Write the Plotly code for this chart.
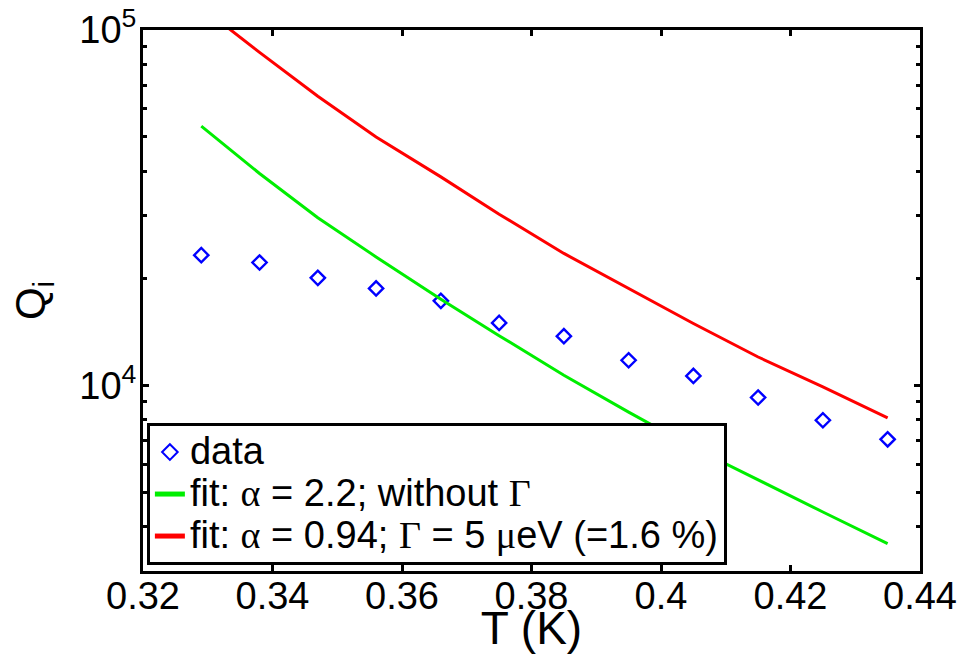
import plotly.graph_objects as go

# Temperature values (K) of the measured points (also the fit evaluation points)
T = [0.329, 0.338, 0.347, 0.356, 0.366, 0.375, 0.385, 0.395, 0.405, 0.415, 0.425, 0.435]

# Measured internal quality factor
Qi_data = [23240, 22160, 20060, 18730, 17280, 14980, 13740, 11760, 10620, 9235, 7970, 7045]

# Fit without Gamma (alpha = 2.2)
Qi_fit_green = [53650, 39450, 29610, 22980, 17470, 13790, 10670, 8400, 6670, 5404, 4397, 3581]

# Fit with Gamma (alpha = 0.94, Gamma = 5 ueV)
Qi_fit_red = [116000, 86500, 65100, 50000, 38600, 30300, 23500, 18730, 14920, 12010, 9890, 8090]

x_ticks = [0.32, 0.34, 0.36, 0.38, 0.40, 0.42, 0.44]
x_ticklabels = ["0.32", "0.34", "0.36", "0.38", "0.4", "0.42", "0.44"]
y_ticks = [1e4, 1e5]
y_ticklabels = ["10<sup>4</sup>", "10<sup>5</sup>"]
y_minor = [3000, 4000, 5000, 6000, 7000, 8000, 9000,
           20000, 30000, 40000, 50000, 60000, 70000, 80000, 90000]

SERIF = "font-family:Liberation Serif, Times New Roman, serif"
BIG = "font-size:38px"


def legend_label(parts):
    out = ""
    for txt, serif in parts:
        style = BIG + (";" + SERIF if serif else "")
        out += f"<span style='{style}'>{txt}</span>"
    return out


name_data = legend_label([("data", False)])
name_green = legend_label([("fit: ", False), ("α", True), (" = 2.2; without ", False), ("Γ", True)])
name_red = legend_label([("fit: ", False), ("α", True), (" = 0.94; ", False), ("Γ", True),
                         (" = 5 ", False), ("μ", True), ("eV (=1.6 %)", False)])

fig = go.Figure()
fig.add_trace(go.Scatter(
    x=T, y=Qi_data, mode="markers", name=name_data,
    marker=dict(symbol="diamond-open", size=11, color="#0000ff",
                line=dict(width=2.4, color="#0000ff")),
))
fig.add_trace(go.Scatter(
    x=T, y=Qi_fit_green, mode="lines", name=name_green,
    line=dict(color="#00ee00", width=3),
))
fig.add_trace(go.Scatter(
    x=T, y=Qi_fit_red, mode="lines", name=name_red,
    line=dict(color="#ff0000", width=3),
))

axis_common = dict(
    showline=True, linecolor="black", linewidth=3, mirror="ticks",
    ticks="inside", ticklen=6, tickwidth=3, tickcolor="black",
    showgrid=False, zeroline=False, automargin=False, ticklabeloverflow="allow",
    tickfont=dict(family="Liberation Sans, Arial, sans-serif", size=38, color="black"),
)

fig.update_layout(
    width=958, height=654,
    margin=dict(l=143, r=38, t=30, b=83),
    paper_bgcolor="white", plot_bgcolor="white",
    font=dict(family="Liberation Sans, Arial, sans-serif", color="black"),
    xaxis=dict(
        range=[0.32, 0.44], tickmode="array", tickvals=x_ticks, ticktext=x_ticklabels,
        ticklabelstandoff=-11,
        title=dict(text="T (K)", font=dict(size=46), standoff=11),
        **axis_common,
    ),
    yaxis=dict(
        type="log", range=[3.4771, 5.0], tickmode="array", tickvals=y_ticks,
        ticktext=y_ticklabels, ticklabelstandoff=-4,
        minor=dict(tickmode="array", tickvals=y_minor, ticks="inside", ticklen=4,
                   tickwidth=3, tickcolor="black", showgrid=False),
        title=dict(text="Q<sub>i</sub>", font=dict(size=42), standoff=21),
        **axis_common,
    ),
    legend=dict(
        x=0.005, y=0.011, xanchor="left", yanchor="bottom",
        bgcolor="white", bordercolor="black", borderwidth=3,
        font=dict(size=30, color="black"),
        tracegroupgap=0, itemsizing="constant",
    ),
    showlegend=True,
)

# remove the default 8px page margin so the 958x654 figure fills the window exactly
fig.write_html(
    "out.html",
    config={"displayModeBar": False},
    post_script="document.body.style.margin='0';document.body.style.overflow='hidden';",
)
